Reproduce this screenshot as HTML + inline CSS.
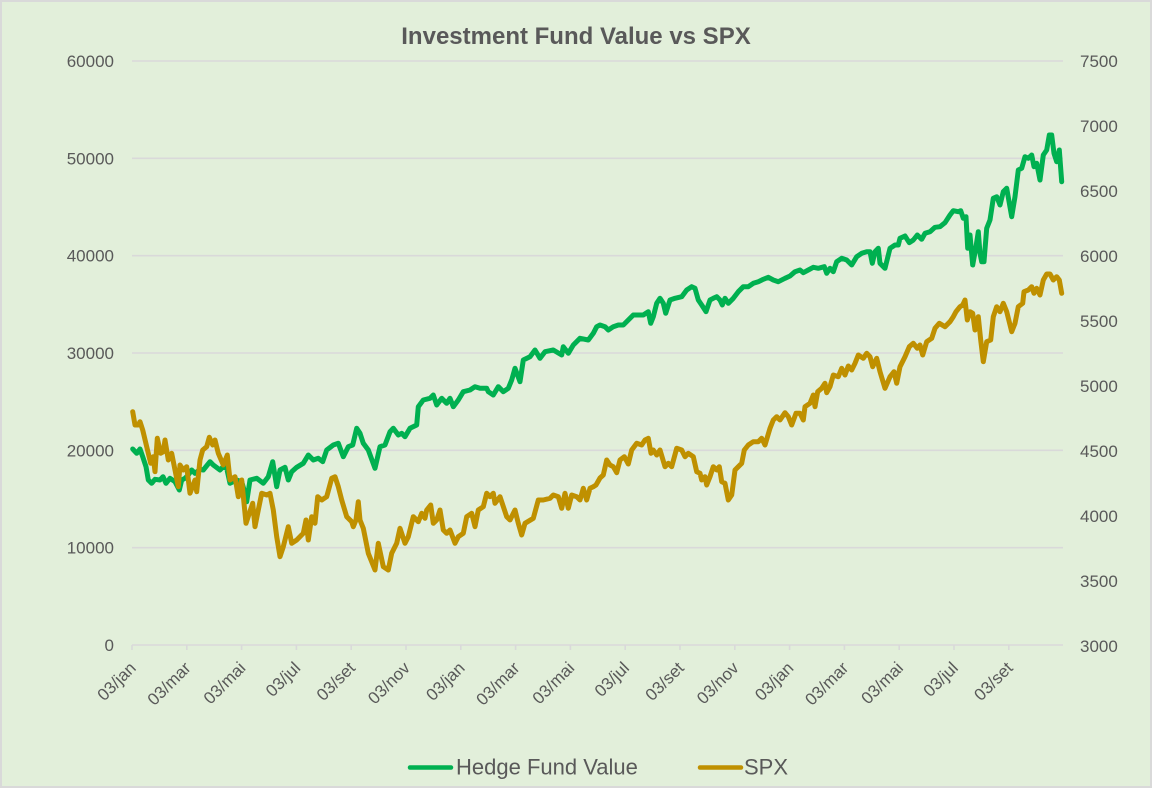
<!DOCTYPE html>
<html>
<head>
<meta charset="utf-8">
<style>
  html,body{margin:0;padding:0;background:#e2efda;}
  svg{display:block;}
  text{font-family:"Liberation Sans", sans-serif;fill:#595959;}
</style>
</head>
<body>
<svg width="1152" height="788" viewBox="0 0 1152 788" xmlns="http://www.w3.org/2000/svg">
  <rect x="1" y="1" width="1150" height="786" fill="#e2efda" stroke="#d9d9d9" stroke-width="2"/>
  <text x="576" y="44" text-anchor="middle" font-size="24" font-weight="bold">Investment Fund Value vs SPX</text>

  <!-- gridlines -->
  <g stroke="#d9d9d9" stroke-width="1.6">
    <line x1="132" y1="61" x2="1063" y2="61"/>
    <line x1="132" y1="158.3" x2="1063" y2="158.3"/>
    <line x1="132" y1="255.7" x2="1063" y2="255.7"/>
    <line x1="132" y1="353" x2="1063" y2="353"/>
    <line x1="132" y1="450.3" x2="1063" y2="450.3"/>
    <line x1="132" y1="547.7" x2="1063" y2="547.7"/>
    <line x1="132" y1="645" x2="1063" y2="645"/>
  </g>
  <!-- x ticks -->
  <g stroke="#d9d9d9" stroke-width="1.6">
    <line x1="132" y1="645" x2="132" y2="650"/>
    <line x1="186.8" y1="645" x2="186.8" y2="650"/>
    <line x1="241.6" y1="645" x2="241.6" y2="650"/>
    <line x1="296.4" y1="645" x2="296.4" y2="650"/>
    <line x1="351.2" y1="645" x2="351.2" y2="650"/>
    <line x1="406" y1="645" x2="406" y2="650"/>
    <line x1="460.8" y1="645" x2="460.8" y2="650"/>
    <line x1="515.6" y1="645" x2="515.6" y2="650"/>
    <line x1="570.4" y1="645" x2="570.4" y2="650"/>
    <line x1="625.2" y1="645" x2="625.2" y2="650"/>
    <line x1="680" y1="645" x2="680" y2="650"/>
    <line x1="734.8" y1="645" x2="734.8" y2="650"/>
    <line x1="789.6" y1="645" x2="789.6" y2="650"/>
    <line x1="844.4" y1="645" x2="844.4" y2="650"/>
    <line x1="899.2" y1="645" x2="899.2" y2="650"/>
    <line x1="954" y1="645" x2="954" y2="650"/>
    <line x1="1008.8" y1="645" x2="1008.8" y2="650"/>
  </g>

  <!-- left axis labels -->
  <g font-size="17" text-anchor="end">
    <text x="114" y="67">60000</text>
    <text x="114" y="164.3">50000</text>
    <text x="114" y="261.7">40000</text>
    <text x="114" y="359">30000</text>
    <text x="114" y="456.3">20000</text>
    <text x="114" y="553.7">10000</text>
    <text x="114" y="651">0</text>
  </g>
  <!-- right axis labels -->
  <g font-size="17" text-anchor="start">
    <text x="1080" y="67">7500</text>
    <text x="1080" y="132">7000</text>
    <text x="1080" y="197">6500</text>
    <text x="1080" y="262">6000</text>
    <text x="1080" y="327">5500</text>
    <text x="1080" y="392">5000</text>
    <text x="1080" y="457">4500</text>
    <text x="1080" y="522">4000</text>
    <text x="1080" y="587">3500</text>
    <text x="1080" y="652">3000</text>
  </g>
  <!-- x labels -->
  <g font-size="17" text-anchor="end">
    <text transform="translate(137,669) rotate(-45)">03/jan</text>
    <text transform="translate(191.8,669) rotate(-45)">03/mar</text>
    <text transform="translate(246.6,669) rotate(-45)">03/mai</text>
    <text transform="translate(301.4,669) rotate(-45)">03/jul</text>
    <text transform="translate(356.2,669) rotate(-45)">03/set</text>
    <text transform="translate(411,669) rotate(-45)">03/nov</text>
    <text transform="translate(465.8,669) rotate(-45)">03/jan</text>
    <text transform="translate(520.6,669) rotate(-45)">03/mar</text>
    <text transform="translate(575.4,669) rotate(-45)">03/mai</text>
    <text transform="translate(630.2,669) rotate(-45)">03/jul</text>
    <text transform="translate(685,669) rotate(-45)">03/set</text>
    <text transform="translate(739.8,669) rotate(-45)">03/nov</text>
    <text transform="translate(794.6,669) rotate(-45)">03/jan</text>
    <text transform="translate(849.4,669) rotate(-45)">03/mar</text>
    <text transform="translate(904.2,669) rotate(-45)">03/mai</text>
    <text transform="translate(959,669) rotate(-45)">03/jul</text>
    <text transform="translate(1013.8,669) rotate(-45)">03/set</text>
  </g>

  <!-- Hedge fund series -->
  <polyline fill="none" stroke="#00b050" stroke-width="5" stroke-linejoin="round" stroke-linecap="round"
    points="132.7,449 136.7,453.3 140,449 142.7,456.7 146,466.7 148.3,480 151.7,483.3 155,479.3 160,480 163,476.7 166,483.3 170,478.3 175,481.7 179.3,490 181.7,480 185,478.3 188.3,475 191.7,470 195,473.3 200,469.3 203.3,470 210,461.7 213.3,465 220,470 223.3,466.7 226.7,468.3 230,483.3 236.7,480 241.7,481.7 245,493.3 246.7,501.7 250,480 256.7,478.3 263.3,483.3 268.3,476.7 272.7,461.7 276.7,486.7 280,470 285,467.3 288.3,480 291.7,471.7 296.7,467.3 303.3,463.3 308.3,455 313.3,460 318.3,458.3 322.7,461.7 326.7,450 333.3,445 338.3,443.3 343.3,456.7 348.3,446.7 352.7,445 356.7,428.3 360,433.3 363.3,443.3 368.3,450 375,468.3 380,446.7 385,445 390,431.7 393.3,428.3 398.3,435 401.7,433.3 405,436.7 410,428.3 416.7,425 418.3,406.7 423.3,400 430,398.3 433.3,395 436.7,405 441.7,398.3 446.7,403.3 450,398.3 453.3,406.7 458.3,400 463.3,391.7 470,390 475,386.7 480,388.3 486.7,388.3 488.3,391.7 493.3,395 498.3,386.7 503.3,391.7 508.3,388.3 511.7,380 515,368.3 520,381.7 523.3,360 530,356.7 535,350 540,358.3 545,351.7 553.3,350 561.7,355 563.3,346.7 568.3,353.3 573.3,345 580,338.3 588.3,340 593.3,333.3 596.7,326.7 600,325 605,326.7 608.3,330 613.3,326.7 618.3,325 623.3,325 628.3,320 633.3,315 638.3,315 643.3,315 648.3,311.7 650.7,323.3 653.3,316.7 656.7,303.3 660,298.3 663.3,303.3 665.7,313.3 670,300 675,298.3 681.7,296.7 686.7,290 691.7,286.7 695,288.3 698.3,300 701.7,305 706,311.7 710,300 713.3,298.3 716.7,296.7 720,300 722.3,305 725,298.3 728.3,303.3 733.3,298.3 738.3,291.7 743.3,286.7 748.3,286.7 753.3,283.3 758.3,281.7 763.3,279.3 768.3,277.3 773.3,280 778.3,281.7 785,278.3 790,276 795,271.7 800,270 803.3,272.7 808.3,270 813.3,267.3 818.3,268.3 824.3,266.7 826.7,273.3 830,268.3 833.3,271.7 836.7,261.7 841.7,258.3 846.7,260 851.7,265 856.7,256.7 861.7,253.3 866.7,251.7 870,251.7 872.3,263.3 875,251.7 878.3,248.3 880,263.3 885,268.3 890,248.3 895,245 898.3,245 900,238.3 905,236 909.3,242.7 913.3,240 917.3,235 921.7,239.3 925,233.3 930,231.7 935,227.3 940,226.7 945,222.7 950,215 953.3,210.7 958.3,211.7 960.7,210.7 963.3,218.3 966,216.7 967.7,248.3 970,235 972.7,265 976,246.7 978.3,231.7 980,253.3 981.7,261.7 984,261.7 986.7,228.3 990,220 993.3,198.3 996.7,196.7 1000,205 1003.3,191.7 1006.7,188.3 1011.7,216.7 1015,196.7 1018.3,170 1021.7,168.3 1025,156.7 1028.3,158.3 1031.7,155 1034,166.7 1036.7,163.3 1040,180 1043.3,155 1046.7,150 1049.3,135 1051.7,135 1054,153.3 1056.7,161.7 1059.3,150 1061.7,181.7"/>

  <!-- SPX series -->
  <polyline fill="none" stroke="#bf9000" stroke-width="5" stroke-linejoin="round" stroke-linecap="round"
    points="132.7,411.7 135,425 138.3,425 140,421.7 142.7,430 146.7,446.7 150.7,463.3 153.3,456.7 155,471.7 157.3,438.3 160.7,453.3 163.3,451.7 165,440 168.3,460 171.7,453.3 175,470 178.3,486.7 180,465 183.3,470 186.7,466.7 190,493.3 195,480 196.7,491.7 200,460 202.7,450 206.7,446.7 209.3,437.3 212.7,445 215,440 218.3,453.3 223.3,465 227.3,455 230,480 235,476.7 238.3,496.7 241.7,480 246,523.3 249.3,513.3 252.7,503.3 255,526.7 258.3,510 261.7,493.3 266.7,495 270,493.3 273.3,510 276.7,536.7 280,556.7 283.3,546.7 288.3,526.7 291.7,543.3 296.7,540 303.3,533.3 306,520 308.3,540 311.7,516.7 315,523.3 317.7,496.7 321.7,500 326.7,496.7 331.7,478.3 335,476.7 338.3,486.7 341.7,500 346.7,516.7 351.7,521.7 353.3,526.7 356,520 358.3,501.7 360,520 363.3,528.3 368.3,553.3 375,570 378.3,543.3 383.3,566.7 388.3,570 391.7,553.3 396.7,543.3 400,528.3 405,543.3 408.3,536.7 413.3,516.7 418.3,521.7 421.7,513.3 425,518.3 426.7,510 430.7,505 433.3,523.3 436.7,520 440,510 443.3,530 446.7,533.3 450,530 455,543.3 458.3,536.7 463.3,533.3 466.7,516.7 471.7,513.3 475,526.7 478.3,510 483.3,506.7 486.7,493.3 490,496.7 493.3,493.3 495,503.3 500,496.7 506.7,516.7 510,520 515,510 518.3,523.3 521.7,535 525,523.3 533.3,518.3 538.3,500 543.3,500 550,498.3 553.3,495 558.3,496.7 561.7,508.3 565,493.3 568.3,508.3 571.7,495 576.7,496.7 580,500 583.3,488.3 586.7,500 590,488.3 593.3,486.7 596,485 600,478 603.3,475 606.7,460 610,465 613.3,466.7 616.7,472.7 620,460 624.3,456.7 628.3,464 631.7,450 636.7,443.3 641.7,445 645,440 648.3,438.3 651,453.3 653.3,450 656.7,455 660,450 665,466.7 668.3,463.3 671.7,466.7 676.7,448.3 681.7,450 685,456.7 688.3,453.3 693.3,456.7 696.7,471.7 700,473.3 701.7,480 705,476.7 706.7,485 710,476.7 713.3,466.7 716.7,470 719.3,466.7 721.7,481.7 725,483.3 728.3,500 731.7,495 735,470 738.3,466.7 741.7,463.3 744.3,450 748.3,445 753.3,441.7 758.3,441.7 761.7,438.3 765,445 770,428.3 773.3,420 776.7,416.7 780,420 785,412.7 788.3,416.7 791.7,425 796,413.3 800,413.3 803.3,420 805,406.7 810,403.3 813.3,395 815,406.7 817.7,391.7 821.7,388.3 825,383.3 826.7,392.7 830,386.7 833.3,375 838.3,376.7 841.7,368.3 845,375 848.3,366 851.7,370 855,363.3 858.3,355 863.3,358.3 866.7,353.3 870,356.7 872.7,366.7 876.7,358.3 880,371.7 885,388.3 890,376.7 894,371.7 896.7,383.3 900,366.7 905,356.7 909.3,346.7 913.3,343.3 917.3,348.3 920,345 922.7,355 926.7,341.7 931.7,338.3 935,328.3 939.3,323.3 945,326.7 950,321.7 953.3,316.7 956,311.7 960,306.7 962.7,305 965,300 967.3,320 970,311.7 972.7,313.3 975,330 978.3,316.7 980.7,340 983.3,361.7 986.7,341.7 990.7,340 993.3,316.7 996.7,306.7 1000,311.7 1003.3,303.3 1006.7,311.7 1011.7,331.7 1015,323.3 1018.3,306.7 1022.7,303.3 1024,291.7 1028.3,290 1031.7,286.7 1034,293.3 1036.7,288.3 1040,295 1043.3,280 1046.7,274 1050,274 1053.3,280 1056.7,276.7 1059.3,280 1061.7,293.3"/>

  <!-- legend -->
  <line x1="410" y1="767.5" x2="451" y2="767.5" stroke="#00b050" stroke-width="4.5" stroke-linecap="round"/>
  <text x="456" y="774.5" font-size="22">Hedge Fund Value</text>
  <line x1="700" y1="767.5" x2="741" y2="767.5" stroke="#bf9000" stroke-width="4.5" stroke-linecap="round"/>
  <text x="744" y="774.5" font-size="22">SPX</text>
</svg>
</body>
</html>
